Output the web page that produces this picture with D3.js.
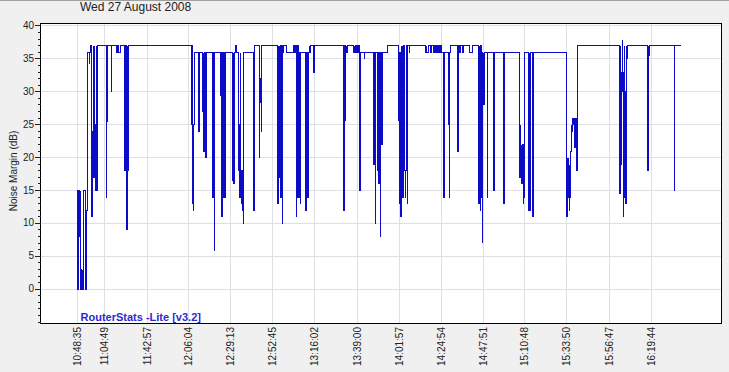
<!DOCTYPE html>
<html><head><meta charset="utf-8">
<script src="https://cdn.jsdelivr.net/npm/d3@7"></script>
<style>
body{margin:0;background:#f0f0f0;}
svg{display:block;font-family:Arial,"Liberation Sans",sans-serif;}
</style>
</head><body>
<svg id="chart" width="729" height="372"></svg>
<script>
const chartTitle = "Wed 27 August 2008";
const yAxisTitle = "Noise Margin (dB)";
const brandText = "RouterStats -Lite [v3.2]";

// x axis: sample index of each labelled sample, and its time label
const xTickIndex = [0, 66, 167, 266, 366, 466, 566, 667, 767, 867, 967, 1066, 1166, 1267, 1366];
const xTickLabels = ["10:48:35","11:04:49","11:42:57","12:06:04","12:29:13","12:52:45","13:16:02",
  "13:39:00","14:01:57","14:24:54","14:47:51","15:10:48","15:33:50","15:56:47","16:19:44"];
const yMajorTicks = [0, 5, 10, 15, 20, 25, 30, 35, 40];
const yMinorTicks = [-5,-4,-3,-2,-1,1,2,3,4,6,7,8,9,11,12,13,14,16,17,18,19,21,22,23,24,26,27,28,29,31,32,33,34,36,37,38,39];

// noise margin (dB): [sample index, value] held until next entry
const noiseSteps = [
 [0,15],[1,0],[2,15],[3,0],[4,15],[6,8],[7,15],[8,0],[9,3],[10,0],[12,3],[13,0],[14,15],[19,0],[20,15],[21,0],[23,12],[24,22],[25,36],[29,34.3],[30,36],
 [33,37],[35,11],[36,24],[38,37],[39,24],[40,17],[41,37],[42,25],[43,17],[44,15],[45,37],[46,19],[47,15],[48,37],
 [70,14],[71,25.5],[72,37],[82,30],[83,37],[93,36],[95,37],[99,36],[104,37],
 [113,18],[114,37],[115,18],[116,37],[117,17],[118,9],[119,18],[120,37],[121,18],[122,37],
 [272,25],[273,37],[274,25],[275,13],[276,25],[277,12],[278,25],[279,36],
 [290,24],[291,36],[299,27],[300,36],[301,21],[302,36],[306,20],[307,36],
 [323,14],[324,18],[325,36],[326,18],[327,5.9],[328,36],
 [341,29.4],[342,36],[343,29.4],[344,11],[345,36],
 [348,14],[349,36],[350,14],[351,36],[352,14],[353,36],
 [371,16.5],[372,36],[373,16],[374,36],[377,37],[380,36],
 [383,18],[384,36],[385,25],[386,14],[387,25],[388,14],[389,36],[390,18],[391,13],[392,18],[393,12],[394,18],[395,36],[396,10],[397,36],
 [421,12],[422,37],
 [433,20],[434,37],[435,32],[436,28.4],[437,32],[438,24],[439,37],
 [478,13],[479,37],[480,17],[481,37],[482,21],[483,37],[484,14],[485,37],[486,14],[487,37],[488,14],[489,10],[490,36],[492,37],[498,36],[516,37],[518,36],[519,37],
 [522,11],[523,36],[524,14],[525,37],[526,14],[527,36],[528,18],[529,14],[530,36],[531,13],[532,36],
 [544,12],[545,36],[546,14],[547,36],[548,14],[549,36],[550,14],[551,36],[552,37],[554,36],[555,37],
 [563,33],[564,37],
 [635,12],[636,25.6],[637,37],[638,25.6],[639,36],[640,37],[641,36],[643,37],
 [659,36],[660,37],[661,36],[662,37],[664,36],[666,37],[668,36],[670,37],[672,36],[673,15],[674,36],
 [683,35],[685,36],
 [706,19],[707,36],[710,10],[711,36],[714,18],[715,36],[718,16],[719,36],[722,8],[723,36],[725,22],[726,36],
 [739,37],
 [764,36],[765,25.6],[766,36],[767,13],[768,36],[769,13],[770,11],[771,37],[773,14],[774,37],[775,14],[776,36],[777,14],[778,37],[780,18],[781,14],[782,18],[783,37],[786,13],[787,37],[790,36],[791,37],
 [830,36],[831,37],[832,36],[836,37],[841,36],[843,37],[849,36],[851,37],[853,36],[855,37],[857,36],[860,37],[862,36],[866,37],[868,36],
 [873,14],[874,36],[883,25],[884,34],[885,25],[886,14],[887,36],[889,37],
 [905,36],[906,21],[907,36],[908,37],[910,36],[912,37],[917,36],[920,37],[933,36],[940,37],
 [956,13],[957,37],[958,14],[959,37],[960,12],[961,37],[962,14],[963,36],[964,12],[965,7.1],[966,28],[967,36],[968,28],[969,36],
 [976,14],[977,36],[990,25],[991,36],[992,15],[993,36],
 [1014,13],[1015,36],[1016,13],[1017,36],
 [1052,26.6],[1053,25],[1054,17],[1055,25],[1056,19],[1057,22],[1058,16],[1059,22],[1060,18],[1061,22],[1062,13],[1063,22],[1064,14],[1065,36],
 [1075,12],[1076,36],[1077,12],[1078,36],[1083,11],[1084,36],[1085,11],[1086,36],
 [1164,35.5],[1166,11],[1167,20],[1168,14],[1169,20],[1170,15],[1171,19],[1172,12],[1173,18],[1174,14],[1175,21],[1176,25],[1177,24],[1180,26],[1181,25],[1182,26],[1185,21.6],[1186,26],[1188,18],[1190,37],
 [1292,14.5],[1293,37],[1294,30],[1295,19],[1296,33],[1297,30],[1298,38],[1299,30],[1300,11],[1301,33],[1302,14],[1303,37],[1304,30],[1306,13],[1307,37],[1308,35],[1309,37],[1310,35],[1311,37],
 [1358,18],[1359,35.5],[1360,37],[1361,35.5],[1362,37],
 [1422,15],[1423,37],[1437,37]
];

const xDomain = [-86, 1535];
const yDomain = [-5.29, 40.3];

const svg = d3.select("#chart");
const plot = {left: 40.5, right: 721.5, top: 23.5, bottom: 323.5};
const x = d3.scaleLinear().domain(xDomain).range([plot.left, plot.right]);
const y = d3.scaleLinear().domain(yDomain).range([plot.bottom, plot.top]);
const px = v => Math.round(v) + 0.5;

svg.append("rect").attr("x",0).attr("y",0).attr("width",729).attr("height",372).attr("fill","#f0f0f0");
svg.append("rect").attr("x",0).attr("y",0).attr("width",729).attr("height",1).attr("fill","#a0a0a0");

// plot background
svg.append("rect").attr("x",plot.left).attr("y",plot.top)
  .attr("width",plot.right-plot.left).attr("height",plot.bottom-plot.top).attr("fill","#fff");

// gridlines
const grid = svg.append("g").attr("stroke","#dfdfe6").attr("stroke-width",1).attr("shape-rendering","crispEdges");
grid.selectAll(".hg").data(yMajorTicks).join("line")
  .attr("x1",plot.left).attr("x2",plot.right)
  .attr("y1",d=>px(y(d))).attr("y2",d=>px(y(d)));
grid.selectAll(".vg").data(xTickIndex).join("line")
  .attr("x1",d=>px(x(d))).attr("x2",d=>px(x(d)))
  .attr("y1",plot.top).attr("y2",plot.bottom);

// data line
const line = d3.line()
  .x(d => px(x(d[0])))
  .y(d => px(y(d[1])))
  .curve(d3.curveStepAfter);
svg.append("path").datum(noiseSteps)
  .attr("d", line).attr("fill","none").attr("stroke","#0c0cc8").attr("stroke-width",1)
  .attr("shape-rendering","crispEdges");

// frame
svg.append("rect").attr("x",plot.left).attr("y",plot.top)
  .attr("width",plot.right-plot.left).attr("height",plot.bottom-plot.top)
  .attr("fill","none").attr("stroke","#000").attr("stroke-width",1).attr("shape-rendering","crispEdges");

// y ticks
const yt = svg.append("g").attr("stroke","#222").attr("shape-rendering","crispEdges");
yt.selectAll(".maj").data(yMajorTicks).join("line")
  .attr("x1",plot.left-5.5).attr("x2",plot.left).attr("y1",d=>px(y(d))).attr("y2",d=>px(y(d)));
yt.selectAll(".min").data(yMinorTicks).join("line")
  .attr("x1",plot.left-3).attr("x2",plot.left).attr("y1",d=>px(y(d))).attr("y2",d=>px(y(d)));
svg.append("g").selectAll("text").data(yMajorTicks).join("text")
  .attr("x",34).attr("y",d=>y(d)).attr("dy","0.36em")
  .attr("text-anchor","end").attr("font-size","10px").attr("fill","#222")
  .text(d=>d);

// x labels
svg.append("g").selectAll("text").data(xTickIndex).join("text")
  .attr("transform",(d)=>`translate(${px(x(d))+3.5},327) rotate(-90)`)
  .attr("text-anchor","end").attr("font-size","10px").attr("fill","#222")
  .text((d,i)=>xTickLabels[i]);

// titles
svg.append("text").attr("x",80).attr("y",11).attr("font-size","12px").attr("fill","#222").text(chartTitle);
svg.append("text").attr("transform","translate(17,171) rotate(-90)").attr("text-anchor","middle")
  .attr("font-size","10px").attr("fill","#222").text(yAxisTitle);
svg.append("text").attr("x",80.5).attr("y",321).attr("font-size","11px").attr("font-weight","bold")
  .attr("fill","#2b2bd0").text(brandText);
</script>
</body></html>
